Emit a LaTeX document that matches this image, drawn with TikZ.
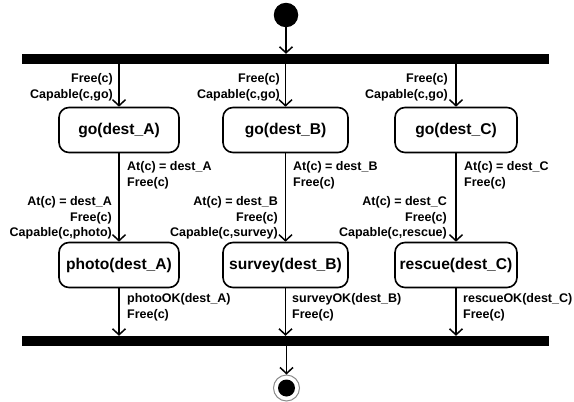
\documentclass[tikz,border=0pt]{standalone}
\usepackage{fontspec}
\setmainfont{Liberation Sans}
\usetikzlibrary{arrows.meta}
\tikzset{
  bar/.style={fill=black, draw=none, rectangle, minimum width=527pt, minimum height=10pt, inner sep=0pt},
  act/.style={draw=black, line width=1.6pt, rounded corners=10pt, rectangle, minimum height=45pt, inner sep=0pt,
    font=\fontsize{15.6}{18}\selectfont\bfseries},
  lbl/.style={inner sep=0pt, font=\fontsize{12.5}{15.5}\selectfont\bfseries},
  flow/.style={line width=1.5pt, -{Straight Barb[length=6pt,width=13pt,line width=1.5pt]}},
}
\begin{document}
\begin{tikzpicture}[x=1pt,y=-1pt]
\useasboundingbox (0,0) rectangle (574,402);
% start / end
\node[circle, fill=black, minimum size=24.5pt, inner sep=0pt] (init) at (286,15) {};
\node[bar] (top) at (285.5,59) {};
\node[bar] (bot) at (285.5,341) {};
\node[circle, draw=black!45, line width=1pt, minimum size=26pt, inner sep=0pt] (final) at (286.5,388) {};
\node[circle, fill=black, minimum size=17pt, inner sep=0pt] (finalin) at (final.center) {};
% activities
\node[act, minimum width=120pt] (goA) at (119,130) {go(dest\_A)};
\node[act, minimum width=125pt] (goB) at (285.5,130) {go(dest\_B)};
\node[act, minimum width=122pt] (goC) at (456,130) {go(dest\_C)};
\node[act, minimum width=120pt] (phA) at (119,265) {photo(dest\_A)};
\node[act, minimum width=125pt] (suB) at (285.5,265) {survey(dest\_B)};
\node[act, minimum width=122pt] (reC) at (456,265) {rescue(dest\_C)};
% flows
\draw[flow] (init) -- (init |- top.north);
\draw[flow] (goA |- top.south) -- (goA.north);
\draw[flow] (goB |- top.south) -- (goB.north);
\draw[flow] (goC |- top.south) -- (goC.north);
\draw[flow] (goA.south) -- (phA.north);
\draw[flow] (goB.south) -- (suB.north);
\draw[flow] (goC.south) -- (reC.north);
\draw[flow] (phA.south) -- (phA |- bot.north);
\draw[flow] (suB.south) -- (suB |- bot.north);
\draw[flow] (reC.south) -- (reC |- bot.north);
\draw[flow] (final |- bot.south) -- (final.north);
% labels column A
\node[lbl, align=right, anchor=east] (a1) at (113,87.5) {Free(c)\\Capable(c,go)};
\node[lbl, align=left, anchor=west] (a2) at (127,175.5) {At(c) = dest\_A\\Free(c)};
\node[lbl, align=right, anchor=east] (a3) at (112,218) {At(c) = dest\_A\\Free(c)\\Capable(c,photo)};
\node[lbl, align=left, anchor=west] (a4) at (127,307.5) {photoOK(dest\_A)\\Free(c)};
% labels column B
\node[lbl, align=right, anchor=east] (b1) at (280,87.5) {Free(c)\\Capable(c,go)};
\node[lbl, align=left, anchor=west] (b2) at (293,175.5) {At(c) = dest\_B\\Free(c)};
\node[lbl, align=right, anchor=east] (b3) at (278,218) {At(c) = dest\_B\\Free(c)\\Capable(c,survey)};
\node[lbl, align=left, anchor=west] (b4) at (292,307.5) {surveyOK(dest\_B)\\Free(c)};
% labels column C
\node[lbl, align=right, anchor=east] (c1) at (448,87.5) {Free(c)\\Capable(c,go)};
\node[lbl, align=left, anchor=west] (c2) at (464,175.5) {At(c) = dest\_C\\Free(c)};
\node[lbl, align=right, anchor=east] (c3) at (447,218) {At(c) = dest\_C\\Free(c)\\Capable(c,rescue)};
\node[lbl, align=left, anchor=west] (c4) at (463,307.5) {rescueOK(dest\_C)\\Free(c)};
\end{tikzpicture}
\end{document}
